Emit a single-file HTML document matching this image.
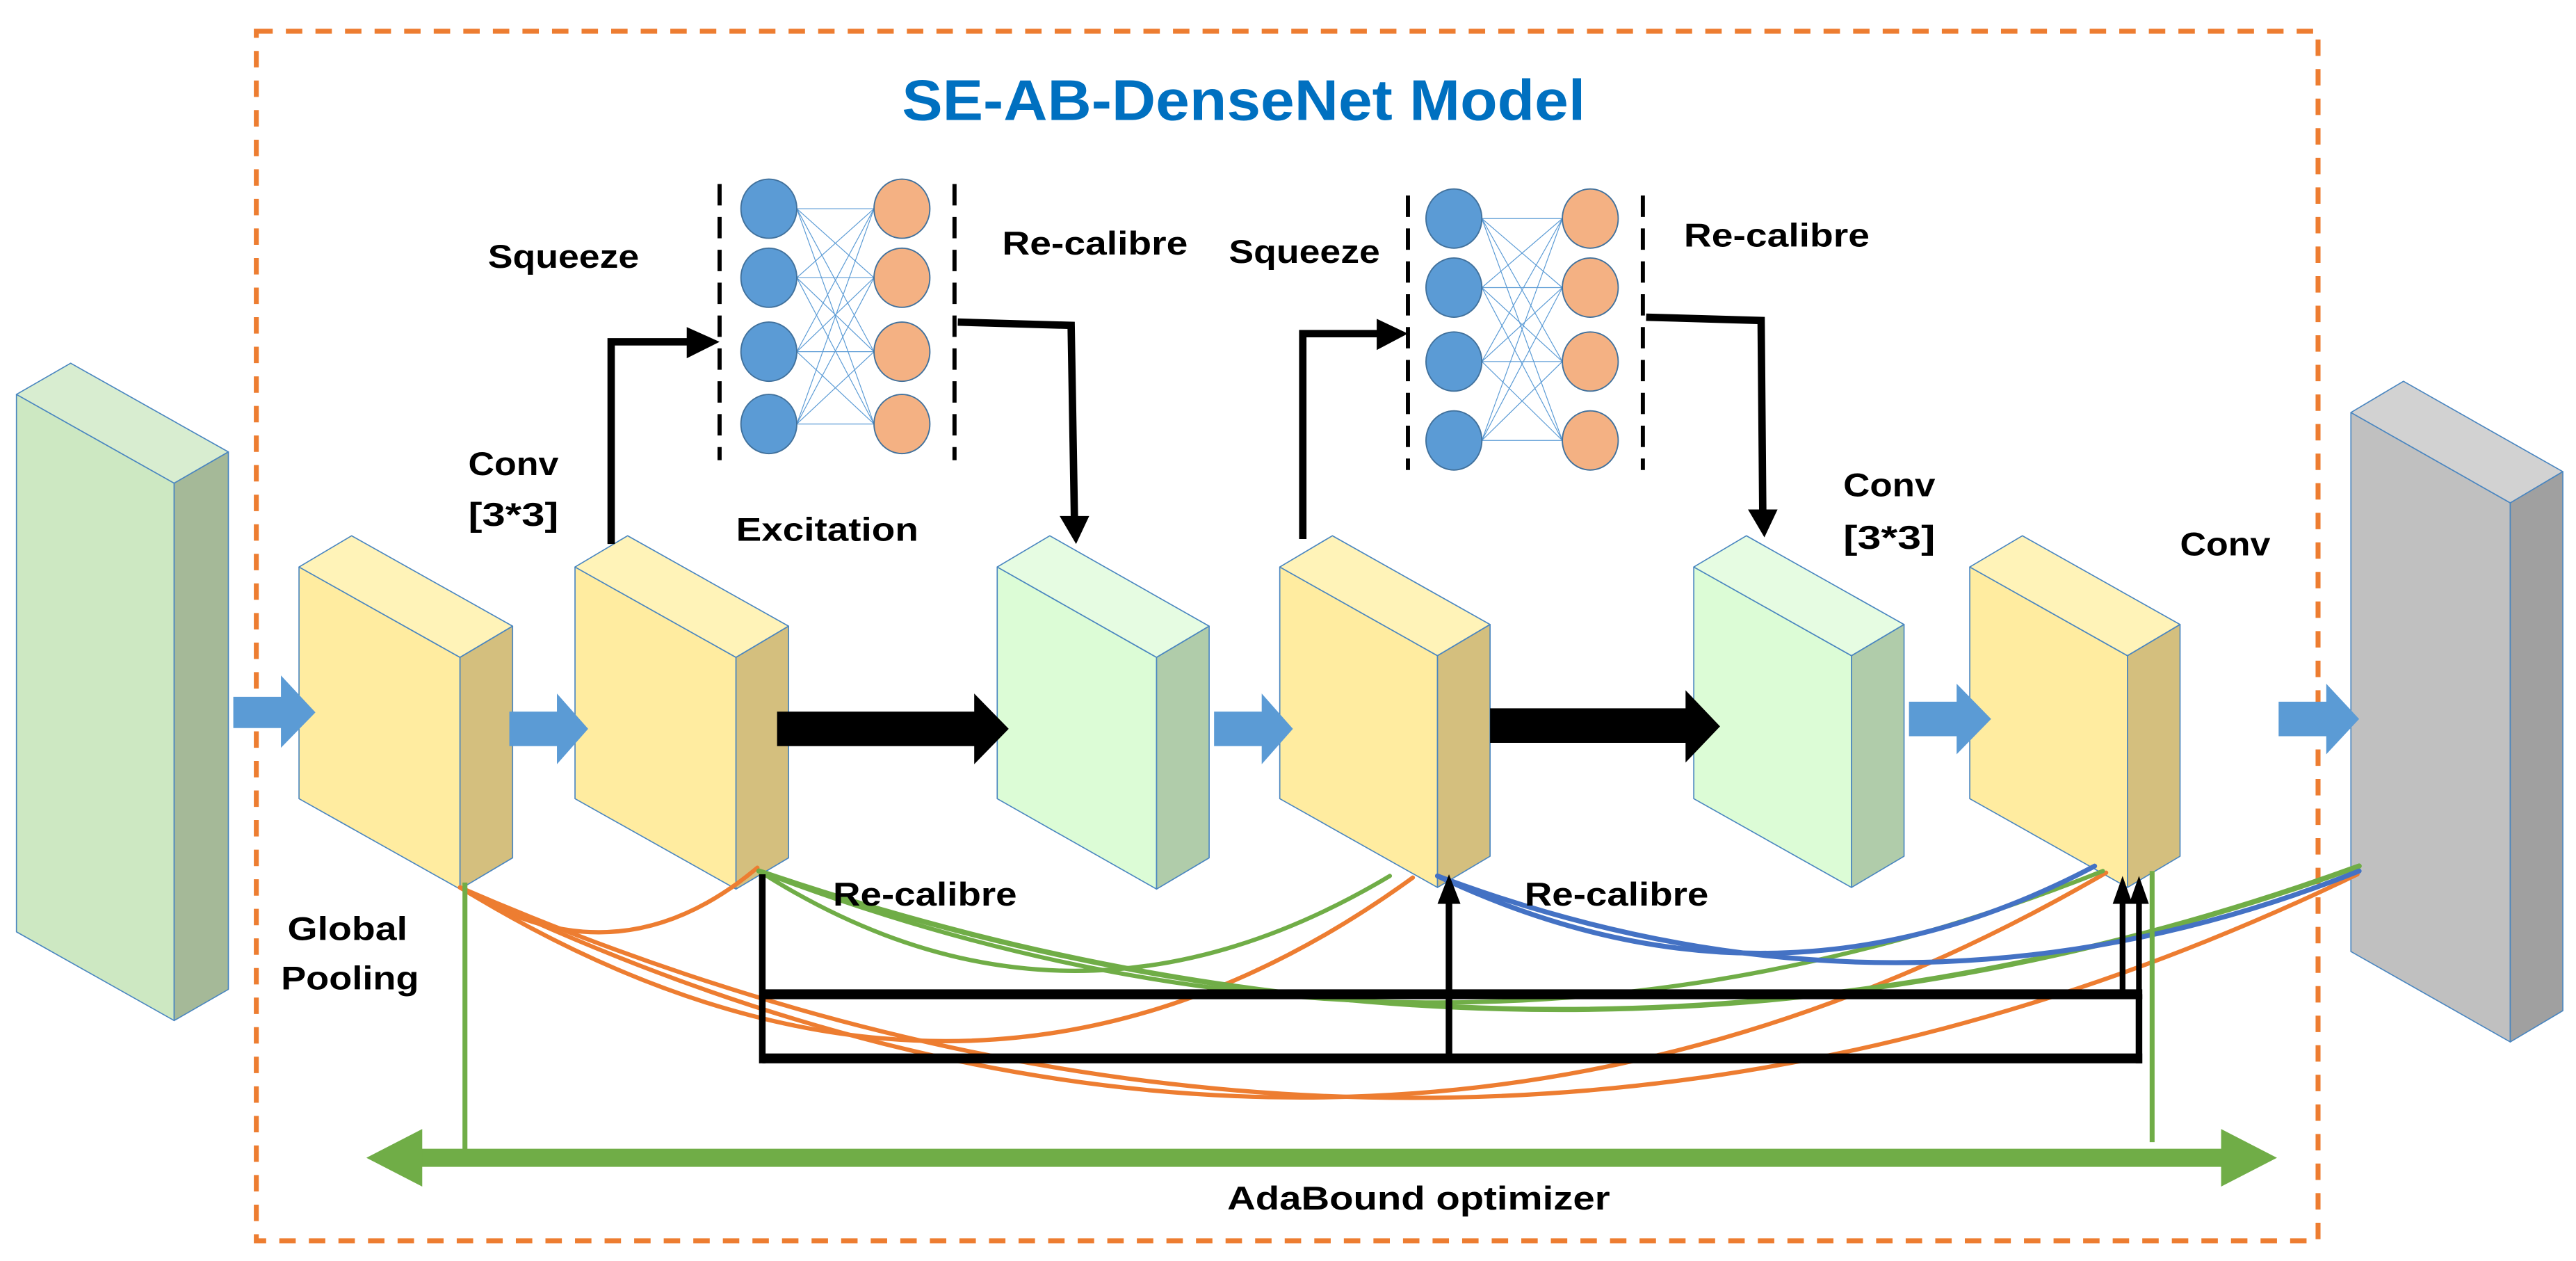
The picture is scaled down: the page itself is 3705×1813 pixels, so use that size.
<!DOCTYPE html>
<html><head><meta charset="utf-8"><style>html,body{margin:0;padding:0;background:#fff}svg{display:block}</style></head>
<body>
<svg xmlns="http://www.w3.org/2000/svg" width="3705" height="1813" viewBox="0 0 1568 767.3">
<rect width="1568" height="767.3" fill="#fff"/>
<g stroke="#4a86c0" stroke-width="0.7" stroke-linejoin="round">
<polygon points="10,240 106,294 106,621 10,567" fill="#cde8c2"/>
<polygon points="10,240 43,221 139,275 106,294" fill="#d8edd0"/>
<polygon points="106,294 139,275 139,602 106,621" fill="#a5b998"/>
<polygon points="182,345 280,400 280,541 182,486" fill="#ffeca0"/>
<polygon points="182,345 214,326 312,381 280,400" fill="#fff3b8"/>
<polygon points="280,400 312,381 312,522 280,541" fill="#d4bf7e"/>
<polygon points="350,345 448,400 448,541 350,486" fill="#ffeca0"/>
<polygon points="350,345 382,326 480,381 448,400" fill="#fff3b8"/>
<polygon points="448,400 480,381 480,522 448,541" fill="#d4bf7e"/>
<polygon points="607,345 704,400 704,541 607,486" fill="#dcfcd6"/>
<polygon points="607,345 639,326 736,381 704,400" fill="#e6fce2"/>
<polygon points="704,400 736,381 736,522 704,541" fill="#b0ccaa"/>
<polygon points="779,345 875,399 875,540 779,486" fill="#ffeca0"/>
<polygon points="779,345 811,326 907,380 875,399" fill="#fff3b8"/>
<polygon points="875,399 907,380 907,521 875,540" fill="#d4bf7e"/>
<polygon points="1031,345 1127,399 1127,540 1031,486" fill="#dcfcd6"/>
<polygon points="1031,345 1063,326 1159,380 1127,399" fill="#e6fce2"/>
<polygon points="1127,399 1159,380 1159,521 1127,540" fill="#b0ccaa"/>
<polygon points="1199,345 1295,399 1295,540 1199,486" fill="#ffeca0"/>
<polygon points="1199,345 1231,326 1327,380 1295,399" fill="#fff3b8"/>
<polygon points="1295,399 1327,380 1327,521 1295,540" fill="#d4bf7e"/>
<polygon points="1431,251 1528,306 1528,634 1431,579" fill="#c0c0c0"/>
<polygon points="1431,251 1463,232 1560,287 1528,306" fill="#d2d2d2"/>
<polygon points="1528,306 1560,287 1560,615 1528,634" fill="#a0a0a0"/>
</g>

<rect x="156" y="19" width="1255" height="736" fill="none" stroke="#ed7d31" stroke-width="3" stroke-dasharray="10 8"/>

<g fill="#5b9bd5">
<polygon points="142,424 171,424 171,411 192,433.5 171,455 171,443 142,443"/>
<polygon points="310,433 339,433 339,422 358,443.5 339,465 339,454 310,454"/>
<polygon points="739,433 768,433 768,422 787,443.5 768,465 768,454 739,454"/>
<polygon points="1162,427 1191,427 1191,416 1212,437.5 1191,459 1191,448 1162,448"/>
<polygon points="1387,427 1416,427 1416,416 1436,437.5 1416,459 1416,448 1387,448"/>
</g>
<g fill="#000">
<polygon points="473,433 593,433 593,422 614,443.5 593,465 593,454 473,454"/>
<polygon points="907,431 1026,431 1026,420 1047,442 1026,464 1026,452 907,452"/>
</g>

<g stroke="#5b9bd5" stroke-width="0.5">
<path d="M485,127 L532,127 M485,127 L532,169 M485,127 L532,214 M485,127 L532,258 M485,169 L532,127 M485,169 L532,169 M485,169 L532,214 M485,169 L532,258 M485,214 L532,127 M485,214 L532,169 M485,214 L532,214 M485,214 L532,258 M485,258 L532,127 M485,258 L532,169 M485,258 L532,214 M485,258 L532,258"/>
<path d="M902,133 L951,133 M902,133 L951,175 M902,133 L951,220 M902,133 L951,268 M902,175 L951,133 M902,175 L951,175 M902,175 L951,220 M902,175 L951,268 M902,220 L951,133 M902,220 L951,175 M902,220 L951,220 M902,220 L951,268 M902,268 L951,133 M902,268 L951,175 M902,268 L951,220 M902,268 L951,268"/>
</g>
<g stroke="#41719c" stroke-width="0.8">
<g fill="#5b9bd5">
<ellipse cx="468" cy="127" rx="17" ry="18"/><ellipse cx="468" cy="169" rx="17" ry="18"/><ellipse cx="468" cy="214" rx="17" ry="18"/><ellipse cx="468" cy="258" rx="17" ry="18"/>
<ellipse cx="885" cy="133" rx="17" ry="18"/><ellipse cx="885" cy="175" rx="17" ry="18"/><ellipse cx="885" cy="220" rx="17" ry="18"/><ellipse cx="885" cy="268" rx="17" ry="18"/>
</g>
<g fill="#f4b183">
<ellipse cx="549" cy="127" rx="17" ry="18"/><ellipse cx="549" cy="169" rx="17" ry="18"/><ellipse cx="549" cy="214" rx="17" ry="18"/><ellipse cx="549" cy="258" rx="17" ry="18"/>
<ellipse cx="968" cy="133" rx="17" ry="18"/><ellipse cx="968" cy="175" rx="17" ry="18"/><ellipse cx="968" cy="220" rx="17" ry="18"/><ellipse cx="968" cy="268" rx="17" ry="18"/>
</g>
</g>
<g stroke="#000" stroke-width="2.5" stroke-dasharray="13 7" fill="none">
<line x1="438" y1="112" x2="438" y2="280"/><line x1="581" y1="112" x2="581" y2="280"/>
<line x1="857" y1="119" x2="857" y2="286"/><line x1="1000" y1="119" x2="1000" y2="286"/>
</g>

<g stroke="#000" stroke-width="4.5" fill="none">
<polyline points="372,331 372,208 422,208"/>
<polyline points="583,196 652,198 654,316"/>
<polyline points="793,328 793,203 842,203"/>
<polyline points="1002,193 1072,195 1073,312"/>
</g>
<g fill="#000">
<polygon points="418,199 438,208 418,218"/>
<polygon points="645,314 663,314 655,331"/>
<polygon points="838,194 857,203 838,213"/>
<polygon points="1064,310 1082,310 1074,327"/>
</g>

<g fill="none" stroke-width="2.6" stroke-linecap="round">
<path d="M280,540 Q375,600 461,528" stroke="#ed7d31"/>
<path d="M280,540 Q590,730 860,534" stroke="#ed7d31"/>
<path d="M280,540 Q820,800 1282,531" stroke="#ed7d31"/>
<path d="M280,540 Q880,800 1435,532" stroke="#ed7d31"/>
<path d="M462,530 Q650,650 846,533" stroke="#70ad47"/>
<path d="M462,530 Q880,690 1280,530" stroke="#70ad47"/>
<path d="M462,530 Q960,700 1436,527" stroke="#70ad47" stroke-width="3.2"/>
<path d="M875,533 Q1080,630 1275,527" stroke="#4472c4" stroke-width="3"/>
<path d="M875,533 Q1160,640 1436,530" stroke="#4472c4" stroke-width="3"/>
</g>

<g stroke="#000" fill="none">
<line x1="464" y1="532" x2="464" y2="647" stroke-width="4"/>
<line x1="464" y1="605" x2="1304" y2="605" stroke-width="6"/>
<line x1="464" y1="644" x2="1304" y2="644" stroke-width="6"/>
<line x1="1302" y1="605" x2="1302" y2="647" stroke-width="4"/>
<line x1="882" y1="644" x2="882" y2="545" stroke-width="4"/>
<line x1="1292" y1="605" x2="1292" y2="545" stroke-width="3.5"/>
<line x1="1302" y1="605" x2="1302" y2="545" stroke-width="3.5"/>
</g>
<g fill="#000">
<polygon points="875,550 889,550 882,532"/>
<polygon points="1286,550 1298,550 1292,533"/>
<polygon points="1296,550 1308,550 1302,533"/>
</g>

<g stroke="#70ad47" fill="none">
<line x1="283" y1="537" x2="283" y2="700" stroke-width="3"/>
<line x1="1310" y1="530" x2="1310" y2="695" stroke-width="3"/>
<line x1="255" y1="704.5" x2="1354" y2="704.5" stroke-width="11"/>
</g>
<g fill="#70ad47">
<polygon points="223,704.5 257,687 257,722"/>
<polygon points="1386,704.5 1352,687 1352,722"/>
</g>

<g font-family="'Liberation Sans', sans-serif" font-weight="bold" font-size="20" fill="#000">
<text x="297" y="163" textLength="92" lengthAdjust="spacingAndGlyphs">Squeeze</text>
<text x="610" y="155" textLength="113" lengthAdjust="spacingAndGlyphs">Re-calibre</text>
<text x="748" y="160" textLength="92" lengthAdjust="spacingAndGlyphs">Squeeze</text>
<text x="1025" y="150" textLength="113" lengthAdjust="spacingAndGlyphs">Re-calibre</text>
<text x="285" y="289" textLength="55" lengthAdjust="spacingAndGlyphs">Conv</text>
<text x="285" y="320" textLength="55" lengthAdjust="spacingAndGlyphs">[3*3]</text>
<text x="448" y="329" textLength="111" lengthAdjust="spacingAndGlyphs">Excitation</text>
<text x="1122" y="302" textLength="56" lengthAdjust="spacingAndGlyphs">Conv</text>
<text x="1122" y="334" textLength="56" lengthAdjust="spacingAndGlyphs">[3*3]</text>
<text x="1327" y="338" textLength="55" lengthAdjust="spacingAndGlyphs">Conv</text>
<text x="175" y="572" textLength="73" lengthAdjust="spacingAndGlyphs">Global</text>
<text x="171" y="602" textLength="84" lengthAdjust="spacingAndGlyphs">Pooling</text>
<text x="507" y="551" textLength="112" lengthAdjust="spacingAndGlyphs">Re-calibre</text>
<text x="928" y="551" textLength="112" lengthAdjust="spacingAndGlyphs">Re-calibre</text>
<text x="747" y="736" textLength="233" lengthAdjust="spacingAndGlyphs">AdaBound optimizer</text>
</g>
<text x="549" y="73" font-family="'Liberation Sans', sans-serif" font-weight="bold" font-size="35" fill="#0070c0" textLength="416" lengthAdjust="spacingAndGlyphs">SE-AB-DenseNet Model</text>
</svg>
</body></html>
